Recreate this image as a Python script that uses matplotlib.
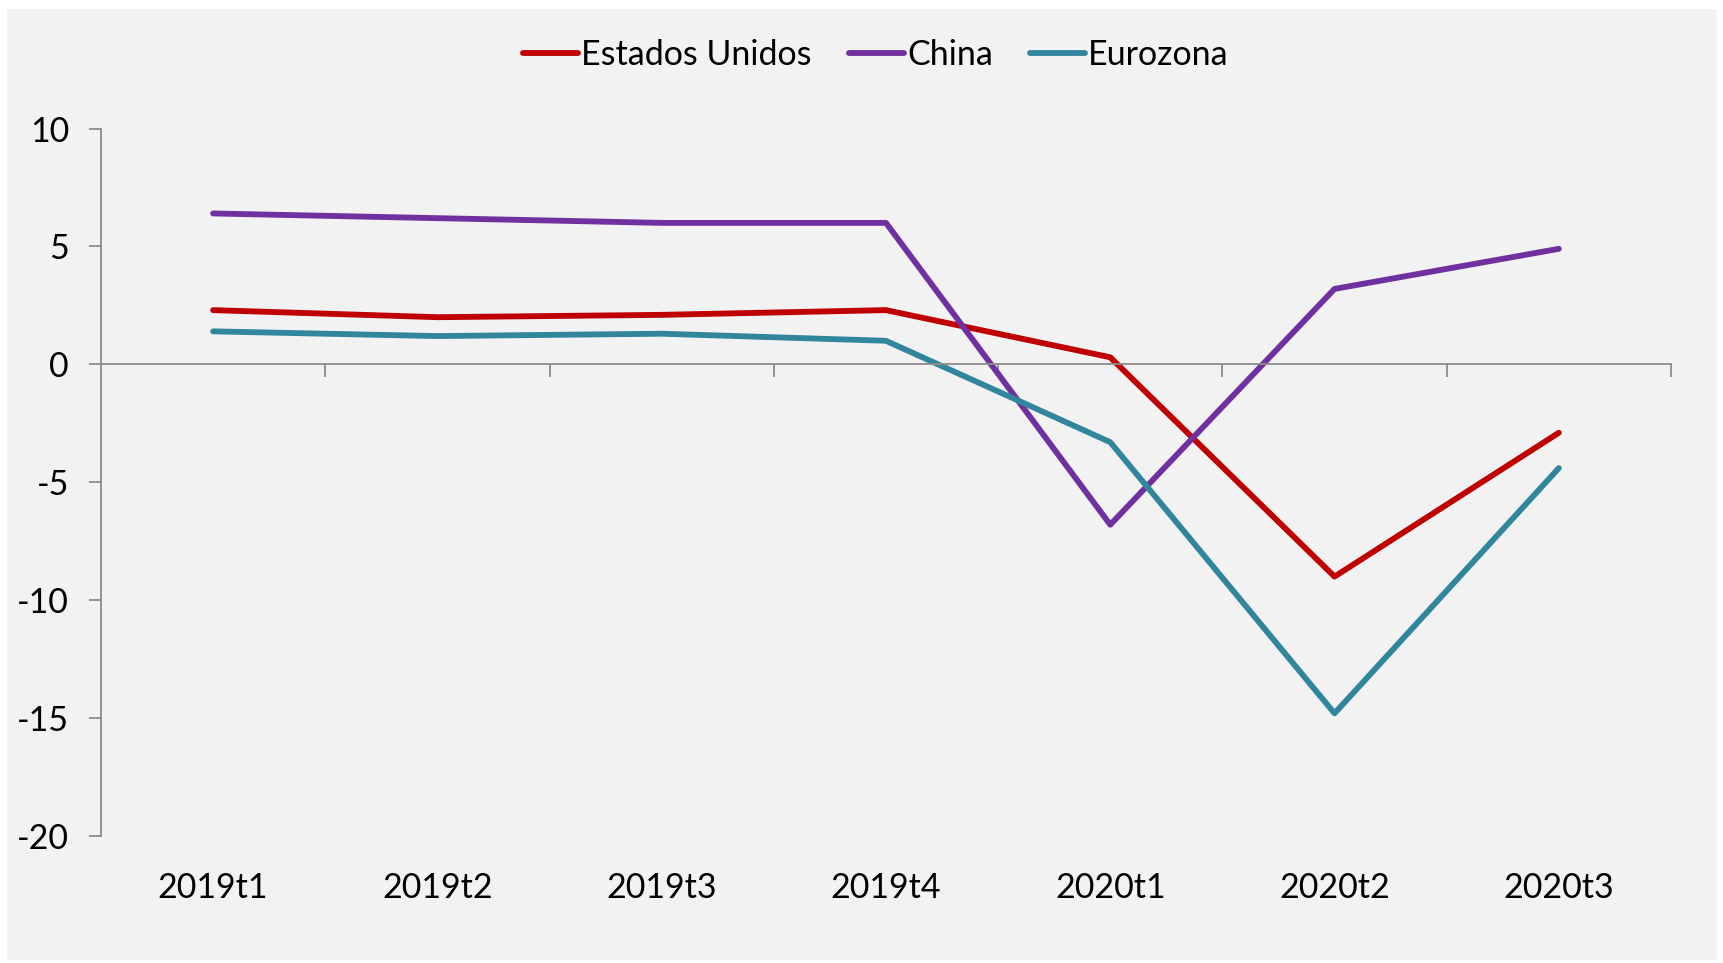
import numpy as np
import matplotlib
matplotlib.use("Agg")
import matplotlib.pyplot as plt
from matplotlib.patches import Rectangle

# Data
quarters = ["2019t1", "2019t2", "2019t3", "2019t4", "2020t1", "2020t2", "2020t3"]
estados_unidos = [2.3, 2.0, 2.1, 2.3, 0.3, -9.0, -2.9]
china = [6.4, 6.2, 6.0, 6.0, -6.8, 3.2, 4.9]
eurozona = [1.4, 1.2, 1.3, 1.0, -3.3, -14.8, -4.4]

series_names = ["Estados Unidos", "China", "Eurozona"]
colors = ["#C00000", "#7030A0", "#31859C"]

plt.rcParams['font.family'] = ['Lato', 'DejaVu Sans']
plt.rcParams['axes.unicode_minus'] = False

fig = plt.figure(figsize=(17.23, 9.63), dpi=100)
fig.patch.set_facecolor("white")
# grey chart area
fig.patches.append(Rectangle((7/1723, 3/963), 1710/1723, 951/963,
                             transform=fig.transFigure, facecolor="#F2F2F2",
                             edgecolor="none", zorder=-10))

ax = fig.add_axes([0.0586, 0.1319, 0.9112, 0.7346])
ax.set_facecolor("none")

x = np.arange(len(quarters))
for name, vals, c in zip(series_names, [estados_unidos, china, eurozona], colors):
    ax.plot(x, vals, color=c, lw=4.2, label=name, solid_capstyle="round",
            solid_joinstyle="round")

ax.set_xlim(-0.5, len(quarters) - 0.5)
ax.set_ylim(-20, 10)
ax.set_yticks(np.arange(-20, 11, 5))

axis_grey = "#8C8C8C"
for s in ["top", "right"]:
    ax.spines[s].set_visible(False)
ax.spines["left"].set_color(axis_grey)
ax.spines["left"].set_linewidth(1.3)
ax.spines["bottom"].set_position(("data", 0))
ax.spines["bottom"].set_color(axis_grey)
ax.spines["bottom"].set_linewidth(1.3)

# tick marks between categories on the zero line
ax.set_xticks(x)
ax.set_xticklabels([])
ax.tick_params(axis="x", which="major", length=0)
ax.set_xticks(np.arange(0.5, len(quarters), 1), minor=True)
ax.tick_params(axis="x", which="minor", length=9, width=1.3, color=axis_grey,
               direction="out")
ax.tick_params(axis="y", length=9, width=1.3, color=axis_grey, labelsize=24.5,
               pad=14)

# category labels at the bottom of the plot area
sec = ax.secondary_xaxis("bottom")
sec.set_xticks(x)
sec.set_xticklabels(quarters)
sec.tick_params(length=0, pad=26, labelsize=24.5)
sec.spines["bottom"].set_visible(False)

leg = ax.legend(loc="center", ncol=3, frameon=False, fontsize=24.5,
                handlelength=1.6, handletextpad=0.1, columnspacing=1.1)
leg.set_bbox_to_anchor((876/1723, 1 - 55/963), transform=fig.transFigure)

fig.savefig("out.png", dpi=100, facecolor="white")
